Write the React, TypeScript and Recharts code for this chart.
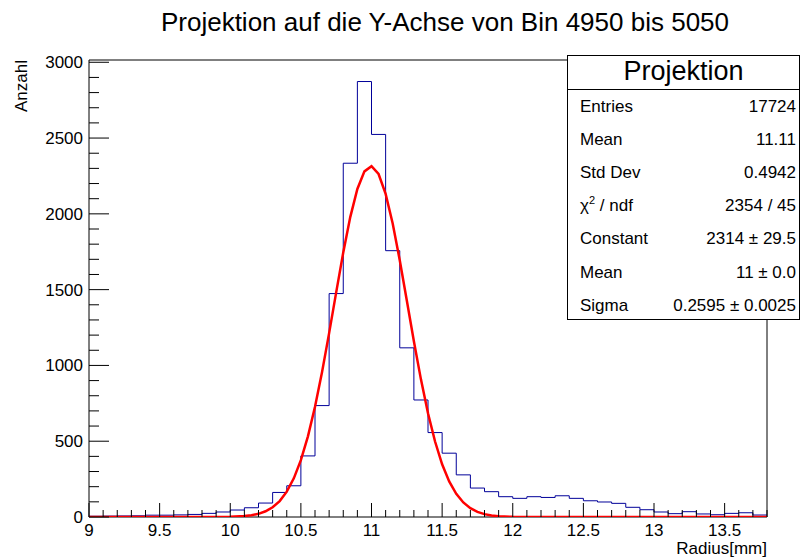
import { ComposedChart, XAxis, YAxis, Line, ReferenceArea } from "recharts";

// histogram bins (lower edge, width 0.1)
const binLow = [
  9.0, 9.1, 9.2, 9.3, 9.4, 9.5, 9.6, 9.7, 9.8, 9.9,
  10.0, 10.1, 10.2, 10.3, 10.4, 10.5, 10.6, 10.7, 10.8, 10.9,
  11.0, 11.1, 11.2, 11.3, 11.4, 11.5, 11.6, 11.7, 11.8, 11.9,
  12.0, 12.1, 12.2, 12.3, 12.4, 12.5, 12.6, 12.7, 12.8, 12.9,
  13.0, 13.1, 13.2, 13.3, 13.4, 13.5, 13.6, 13.7,
];
const counts = [
  5, 6, 7, 8, 12, 12, 14, 17, 24, 33,
  46, 61, 92, 162, 206, 403, 735, 1474, 2334, 2873,
  2524, 1757, 1116, 772, 557, 421, 278, 191, 167, 134,
  123, 134, 129, 140, 123, 107, 99, 90, 64, 48,
  33, 22, 35, 20, 15, 24, 28, 13,
];
const histEnd = 13.8;

// gaus fit curve
const fitX = [
  9.0, 9.5, 9.9, 10.0, 10.1, 10.15, 10.2, 10.25, 10.3, 10.35, 10.4, 10.45,
  10.5, 10.55, 10.6, 10.65, 10.7, 10.75, 10.8, 10.85, 10.9, 10.95,
  11.0, 11.05, 11.1, 11.15, 11.2, 11.25, 11.3, 11.35, 11.4, 11.45,
  11.5, 11.55, 11.6, 11.65, 11.7, 11.75, 11.8, 11.85, 11.9, 12.0,
  12.5, 13.0, 13.8,
];
const fitY = [
  0, 0, 0.5, 1.5, 6, 12, 21, 38, 64, 105, 167, 255,
  375, 532, 727, 956, 1213, 1482, 1745, 1980, 2164, 2280,
  2314, 2263, 2132, 1936, 1694, 1428, 1160, 908, 684, 498,
  348, 235, 153, 96, 58, 34, 19, 10, 5, 1,
  0, 0, 0,
];

const xMajorTicks = [9, 9.5, 10, 10.5, 11, 11.5, 12, 12.5, 13, 13.5];
const xTickLabels = ["9", "9.5", "10", "10.5", "11", "11.5", "12", "12.5", "13", "13.5"];
const yMajorTicks = [0, 500, 1000, 1500, 2000, 2500, 3000];
const yTickLabels = ["0", "500", "1000", "1500", "2000", "2500", "3000"];

const title = "Projektion auf die Y-Achse von Bin 4950 bis 5050";
const xTitle = "Radius[mm]";
const yTitle = "Anzahl";
const statsTitle = "Projektion";
const statsLabels = ["Entries", "Mean", "Std Dev", "χ2 / ndf", "Constant", "Mean", "Sigma"];
const statsValues = ["17724", "11.11", "0.4942", "2354 / 45", "2314 ± 29.5", "11 ± 0.0", "0.2595 ± 0.0025"];

const xMinorTicks = Array.from({ length: 49 }, (_, i) => Math.round(90 + i) / 10);
const yMinorTicks = Array.from({ length: 31 }, (_, i) => i * 100);

const histData = [
  ...binLow.map((x, i) => ({ x, y: counts[i] })),
  { x: histEnd, y: counts[counts.length - 1] },
];
const fitData = fitX.map((x, i) => ({ x, y: fitY[i] }));

const FONT = '"Liberation Sans", Arial, Helvetica, sans-serif';

function XTick(props: any) {
  const { x, y, payload } = props;
  const idx = xMajorTicks.findIndex((t) => Math.abs(t - payload.value) < 1e-6);
  const len = idx >= 0 ? 14 : 7;
  return (
    <g>
      <line x1={x} y1={y} x2={x} y2={y - len} stroke="#000" strokeWidth={1} />
      {idx >= 0 && (
        <text x={x} y={y + 19} textAnchor="middle" fontSize={17} fill="#000" fontFamily={FONT}>
          {xTickLabels[idx]}
        </text>
      )}
    </g>
  );
}

function YTick(props: any) {
  const { x, y, payload } = props;
  const idx = yMajorTicks.findIndex((t) => t === payload.value);
  const len = idx >= 0 ? 20 : 10;
  return (
    <g>
      <line x1={x} y1={y} x2={x + len} y2={y} stroke="#000" strokeWidth={1} />
      {idx >= 0 && (
        <text x={x - 6} y={y + 6} textAnchor="end" fontSize={17} fill="#000" fontFamily={FONT}>
          {yTickLabels[idx]}
        </text>
      )}
    </g>
  );
}

function Overlay() {
  const rowY = (i: number) => 105.5 + 33.2 * i + 6;
  return (
    <svg
      width={802}
      height={558}
      style={{ position: "absolute", left: 0, top: 0, pointerEvents: "none" }}
      fontFamily={FONT}
    >
      <text x={445} y={31} textAnchor="middle" fontSize={26} fill="#000">
        {title}
      </text>
      <text
        x={27}
        y={60}
        textAnchor="end"
        fontSize={17}
        fill="#000"
        transform="rotate(-90 27 60)"
      >
        {yTitle}
      </text>
      <text x={767} y={554} textAnchor="end" fontSize={17} fill="#000">
        {xTitle}
      </text>

      <rect x={567.5} y={55.5} width={232} height={264} fill="#fff" stroke="#000" strokeWidth={1} />
      <line x1={567.5} y1={89.5} x2={799.5} y2={89.5} stroke="#000" strokeWidth={1} />
      <text x={683.5} y={80} textAnchor="middle" fontSize={27} fill="#000">
        {statsTitle}
      </text>
      {statsLabels.map((lab, i) => (
        <g key={i}>
          {i === 3 ? (
            <text x={580} y={rowY(i)} fontSize={17} fill="#000">
              χ
              <tspan dy={-7} fontSize={11}>2</tspan>
              <tspan dy={7} fontSize={17}>{" / ndf"}</tspan>
            </text>
          ) : (
            <text x={580} y={rowY(i)} fontSize={17} fill="#000">
              {lab}
            </text>
          )}
          <text x={796} y={rowY(i)} textAnchor="end" fontSize={17} fill="#000">
            {statsValues[i]}
          </text>
        </g>
      ))}
    </svg>
  );
}

export default function App() {
  return (
    <div
      style={{
        position: "absolute",
        left: 0,
        top: 0,
        width: 802,
        height: 558,
        background: "#fff",
        fontFamily: FONT,
      }}
    >
      <ComposedChart
        width={802}
        height={558}
        margin={{ top: 60, right: 35, bottom: 11, left: 29 }}
      >
        <XAxis
          dataKey="x"
          type="number"
          domain={[9, 13.8]}
          allowDataOverflow
          ticks={xMinorTicks}
          interval={0}
          height={30}
          tickSize={0}
          tickMargin={0}
          tickLine={false}
          axisLine={false}
          tick={<XTick />}
        />
        <YAxis
          type="number"
          domain={[0, 3015]}
          allowDataOverflow
          ticks={yMinorTicks}
          interval={0}
          width={60}
          tickSize={0}
          tickMargin={0}
          tickLine={false}
          axisLine={false}
          tick={<YTick />}
        />
        <ReferenceArea x1={9} x2={13.8} y1={0} y2={3015} fill="none" stroke="#000" strokeWidth={1} />
        <Line
          data={histData}
          dataKey="y"
          type="stepAfter"
          stroke="#000099"
          strokeWidth={1}
          dot={false}
          activeDot={false}
          isAnimationActive={false}
        />
        <Line
          data={fitData}
          dataKey="y"
          type="linear"
          stroke="#ff0000"
          strokeWidth={2.5}
          dot={false}
          activeDot={false}
          isAnimationActive={false}
        />
      </ComposedChart>
      <Overlay />
    </div>
  );
}
